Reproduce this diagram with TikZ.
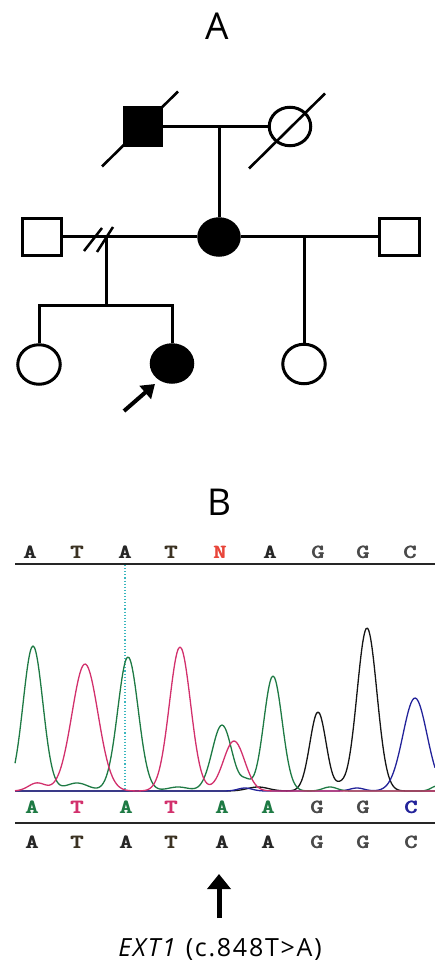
\documentclass[tikz,border=0pt]{standalone}
\usepackage{fontspec}
\setmainfont{Open Sans}
\newfontfamily\capfont[LetterSpace=7]{Open Sans}
\usetikzlibrary{shapes.geometric,arrows.meta}

% trace and base-call colours
\definecolor{chanA}{HTML}{1E7A44}
\definecolor{chanT}{HTML}{D2306C}
\definecolor{chanG}{HTML}{151515}
\definecolor{chanC}{HTML}{23239A}
\definecolor{callN}{HTML}{E8453A}
\definecolor{callDark}{HTML}{262626}
\definecolor{callGray}{HTML}{4A4A4A}
\definecolor{callTan}{HTML}{3B3222}
\definecolor{cursor}{HTML}{3AB6BE}

% wide, heavy slab-serif base letter (two overlaid copies thicken the strokes)
\newcommand{\basechar}[1]{\scalebox{1.25}[1]{\rlap{#1}\hspace{0.7pt}#1}}

\begin{document}
\begin{tikzpicture}[x=1pt,y=-1pt,
  declare function={gs(\t,\c,\s)=exp(-min(((\t-\c)/\s)*((\t-\c)/\s),20));},
  ped/.style={line width=3pt},
  male/.style={draw,rectangle,line width=3pt,minimum size=37.5pt,inner sep=0pt},
  female/.style={draw,ellipse,line width=3pt,minimum width=41.5pt,minimum height=38.5pt,inner sep=0pt},
  affected/.style={fill=black},
  panel/.style={font=\fontsize{37}{37}\selectfont,inner sep=0pt},
  basecall/.style={font=\ttfamily\bfseries\fontsize{20}{20}\selectfont,inner sep=0pt},
  trace/.style={line width=1.3pt,line join=round},
  rule/.style={draw=callDark,line width=2pt}]

\useasboundingbox (0,0) rectangle (435,965);

% ---------------- panel A: pedigree ----------------
\node[panel] (titleA) at (217,26) {A};

% first generation (both deceased)
\node[male,affected] (gf) at (143,126.5) {};
\node[female,minimum width=41.5pt,minimum height=38.5pt] (gm) at (290,126.5) {};
\draw[line width=2.6pt] ([shift={(-41,40)}]gf.center) -- ([shift={(35,-35)}]gf.center);
\draw[line width=2.6pt] ([shift={(-41,42)}]gm.center) -- ([shift={(35,-33)}]gm.center);

% second generation
\node[female,affected,minimum width=40.5pt,minimum height=36.5pt] (mo) at (219,237) {};
\node[male,minimum width=38.5pt,minimum height=37.5pt] (lh) at (42,237) {};
\node[male,minimum width=39.5pt,minimum height=37.5pt] (rh) at (399.5,237) {};

% third generation
\node[female,minimum width=42.5pt,minimum height=39.5pt] (c1) at (39,364.5) {};
\node[female,affected,minimum width=41.5pt,minimum height=37.5pt] (pb) at (172,363.5) {};
\node[female,minimum width=42.5pt,minimum height=39.5pt] (c3) at (304,364) {};

% matings and descent lines
\coordinate (gpm) at (219,126.5);
\draw[ped] (gf.east) -- (gm.west);
\draw[ped] (gpm) -- (mo.north);

\draw[ped] (lh.east) -- (mo.west);
\draw[ped] (mo.east) -- (rh.west);

% separation mark on the first union
\draw[line width=2.5pt] (84,251) -- (102,228);
\draw[line width=2.5pt] (97,252) -- (113,227);

\coordinate (lm) at (106,237);
\coordinate (ls) at (106,305);
\draw[ped] (lm) -- (ls);
\draw[ped] (c1.north) -- (c1.north |- ls) -- (pb.north |- ls) -- (pb.north);

\coordinate (rm) at (304,237);
\draw[ped] (rm) -- (c3.north);

% proband arrow
\coordinate (pa) at (124,411);
\coordinate (ph) at (155,384);
\draw[line width=4pt,-{Triangle[length=13pt,width=17pt]}] (pa) -- (ph);

% ---------------- panel B: chromatogram ----------------
\node[panel] (titleB) at (219,502) {B};

% upper base calls
\foreach \b/\xx/\cc [count=\i] in {A/30/callDark,T/77/callTan,A/125/callDark,T/171/callTan,N/220/callN,A/270/callDark,G/318/callGray,G/363/callGray,C/410/callGray}
  \node[basecall,text=\cc] (top\i) at (\xx,552) {\basechar{\b}};
\draw[rule] (15,564) -- (435,564);

% cursor
\coordinate (curtop) at (125,565);
\coordinate (curbot) at (125,790);
\draw[cursor,dotted,line width=1.1pt] (curtop) -- (curbot);

% traces
\draw[trace,chanG] plot[domain=15:435,samples=281,smooth]
  (\x,{791-79*gs(\x,318,11.5)-163*gs(\x,367,14)-4*gs(\x,258,15)-4*gs(\x,340,6)});
\draw[trace,chanC] plot[domain=15:435,samples=281,smooth]
  (\x,{791-93*gs(\x,415,17)-3*gs(\x,245,10)-3*gs(\x,357,10)});
\draw[trace,chanA] plot[domain=15:435,samples=281,smooth]
  (\x,{791-145*gs(\x,33,14)-8*gs(\x,77,16)-134*gs(\x,128,14.5)-4*gs(\x,178,15)
       -66*gs(\x,222,14)-8*gs(\x,246,7)-115*gs(\x,273,13)-4*gs(\x,330,10)-5*gs(\x,437,8)});
\draw[trace,chanT] plot[domain=15:435,samples=281,smooth]
  (\x,{791-8*gs(\x,37,12)-127*gs(\x,85,18.5)-144*gs(\x,180,15)-50*gs(\x,234,15)});

% lower base calls
\foreach \b/\xx/\cc [count=\i] in {A/32/chanA,T/77/chanT,A/126/chanA,T/171/chanT,A/222/chanA,A/268/chanA,G/317/callGray,G/363/callGray,C/411/chanC}
  \node[basecall,text=\cc] (mid\i) at (\xx,807) {\basechar{\b}};
\draw[rule] (15,823) -- (435,823);

\foreach \b/\xx/\cc [count=\i] in {A/32/callDark,T/77/callTan,A/126/callDark,T/171/callTan,A/222/callDark,A/268/callDark,G/317/callGray,G/363/callGray,C/411/callGray}
  \node[basecall,text=\cc] (bot\i) at (\xx,842) {\basechar{\b}};

% variant marker
\coordinate (vtail) at (219,918);
\coordinate (vhead) at (219,874);
\draw[line width=5pt,-{Triangle[length=15pt,width=23pt]}] (vtail) -- (vhead);

\node[font=\capfont\fontsize{25}{25}\selectfont,inner sep=0pt] (caption) at (220,949) {\textit{EXT1} (c.848T>A)};

\end{tikzpicture}
\end{document}
